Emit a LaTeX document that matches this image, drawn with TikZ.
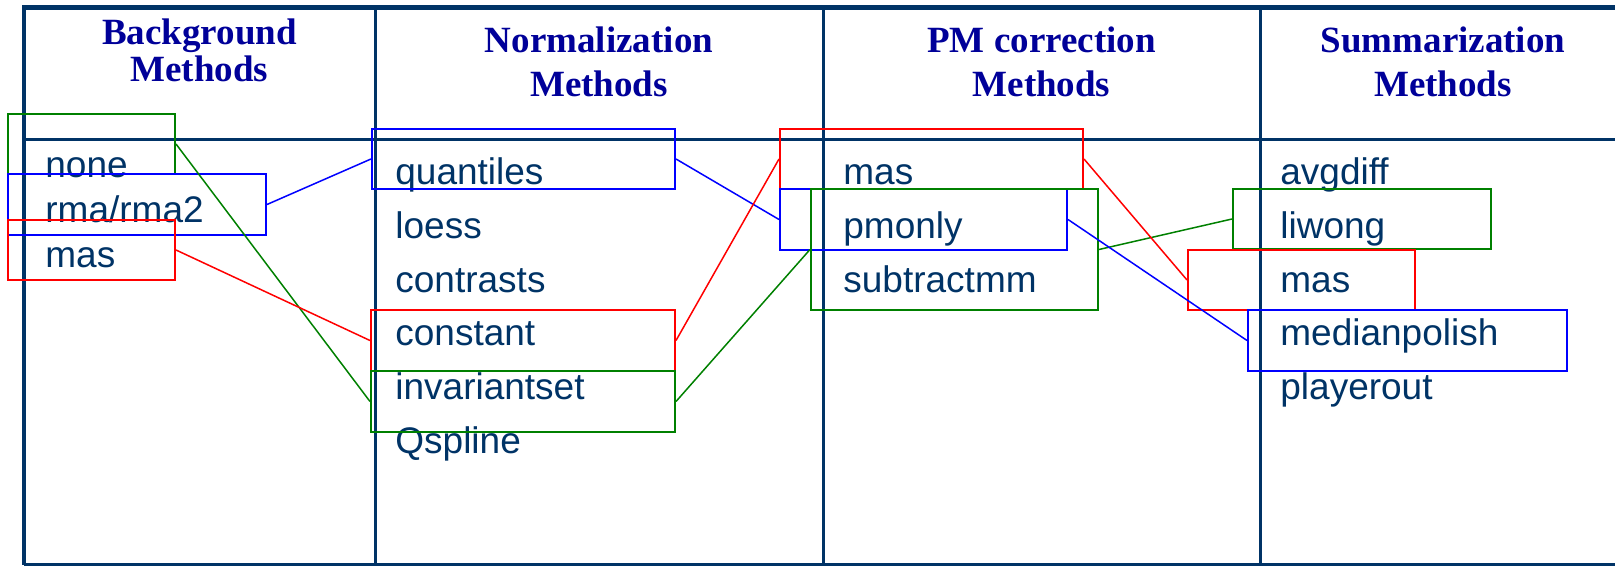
\documentclass[tikz,border=0pt]{standalone}
\usepackage{fontspec}
\setmainfont{Liberation Serif}
\setsansfont{Liberation Sans}
\usetikzlibrary{positioning}
\definecolor{framecol}{RGB}{0,51,102}
\definecolor{headcol}{RGB}{0,0,153}
\definecolor{itemcol}{RGB}{0,51,102}
\definecolor{grn}{RGB}{0,128,0}
\begin{document}
\begin{tikzpicture}[x=0.5pt,y=-0.5pt,
  hd/.style={font=\bfseries\fontsize{18.5}{22}\selectfont,text=headcol,inner sep=0pt,anchor=base},
  itm/.style={font=\sffamily\fontsize{18.5}{22}\selectfont,text=itemcol,inner sep=0pt,anchor=base west},
  sel/.style={draw=#1,line width=1pt,inner sep=0pt,minimum height=30pt},
  link/.style={draw=#1,line width=0.75pt}]
\useasboundingbox (0,0) rectangle (1615,566);
% table frame
\draw[framecol,line width=2.5pt] (22,8) -- (1615,8);
\draw[framecol,line width=2pt] (24,8) -- (24,565);
\draw[framecol,line width=1.2pt] (24,564.5) -- (1615,564.5);
\draw[framecol,line width=1.5pt] (24,140) -- (1615,140);
\foreach \x in {375,823,1260}
  \draw[framecol,line width=1.5pt] (\x,8) -- (\x,565);
% column heads
\node[hd] (bg1) at (199.5,45) {Background};
\node[hd] (bg2) at (199.5,82) {Methods};
\node[hd] (nm1) at (599,53) {Normalization};
\node[hd] (nm2) at (599,97) {Methods};
\node[hd] (pm1) at (1041.5,53) {PM correction};
\node[hd] (pm2) at (1041.5,97) {Methods};
\node[hd] (sm1) at (1443,53) {Summarization};
\node[hd] (sm2) at (1443,97) {Methods};
% method lists
\foreach \t [count=\i from 0] in {none,rma/rma2,mas}
  \node[itm] (bgi\i) at (45,{178+45*\i}) {\t};
\foreach \t [count=\i from 0] in {quantiles,loess,contrasts,constant,invariantset,Qspline}
  \node[itm] (nmi\i) at (395,{185+53.6*\i}) {\t};
\foreach \t [count=\i from 0] in {mas,pmonly,subtractmm}
  \node[itm] (pmi\i) at (843,{185+53.6*\i}) {\t};
\foreach \t [count=\i from 0] in {avgdiff,liwong,mas,medianpolish,playerout}
  \node[itm] (smi\i) at (1280,{185+53.6*\i}) {\t};
% selection boxes
\node[sel=grn,minimum width=83.5pt] (bxbgnone) at (91.5,144) {};
\node[sel=blue,minimum width=129pt,minimum height=30.5pt] (bxbgrma) at (137,204.5) {};
\node[sel=red,minimum width=83.5pt] (bxbgmas) at (91.5,250) {};
\node[sel=blue,minimum width=151.5pt] (bxnmquant) at (523.5,159) {};
\node[sel=red,minimum width=152pt,minimum height=30.5pt] (bxnmconst) at (523,340.5) {};
\node[sel=grn,minimum width=152pt,minimum height=30.5pt] (bxnminv) at (523,401.5) {};
\node[sel=red,minimum width=151.5pt] (bxpmmas) at (931.5,159) {};
\node[sel=blue,minimum width=143.5pt,minimum height=30.5pt] (bxpmonly) at (923.5,219.5) {};
\node[sel=grn,minimum width=143.5pt,minimum height=60.5pt] (bxpmsub) at (954.5,249.5) {};
\node[sel=grn,minimum width=129pt] (bxsmliw) at (1362,219) {};
\node[sel=red,minimum width=113.5pt] (bxsmmas) at (1301.5,280) {};
\node[sel=blue,minimum width=159.5pt,minimum height=30.5pt] (bxsmmed) at (1407.5,340.5) {};
% links
\draw[link=grn] (bxbgnone.east) -- (bxnminv.west);
\draw[link=grn] (bxnminv.east) -- (bxpmsub.west);
\draw[link=grn] (bxpmsub.east) -- (bxsmliw.west);
\draw[link=blue] (bxbgrma.east) -- (bxnmquant.west);
\draw[link=blue] (bxnmquant.east) -- (bxpmonly.west);
\draw[link=blue] (bxpmonly.east) -- (bxsmmed.west);
\draw[link=red] (bxbgmas.east) -- (bxnmconst.west);
\draw[link=red] (bxnmconst.east) -- (bxpmmas.west);
\draw[link=red] (bxpmmas.east) -- (bxsmmas.west);
\end{tikzpicture}
\end{document}
